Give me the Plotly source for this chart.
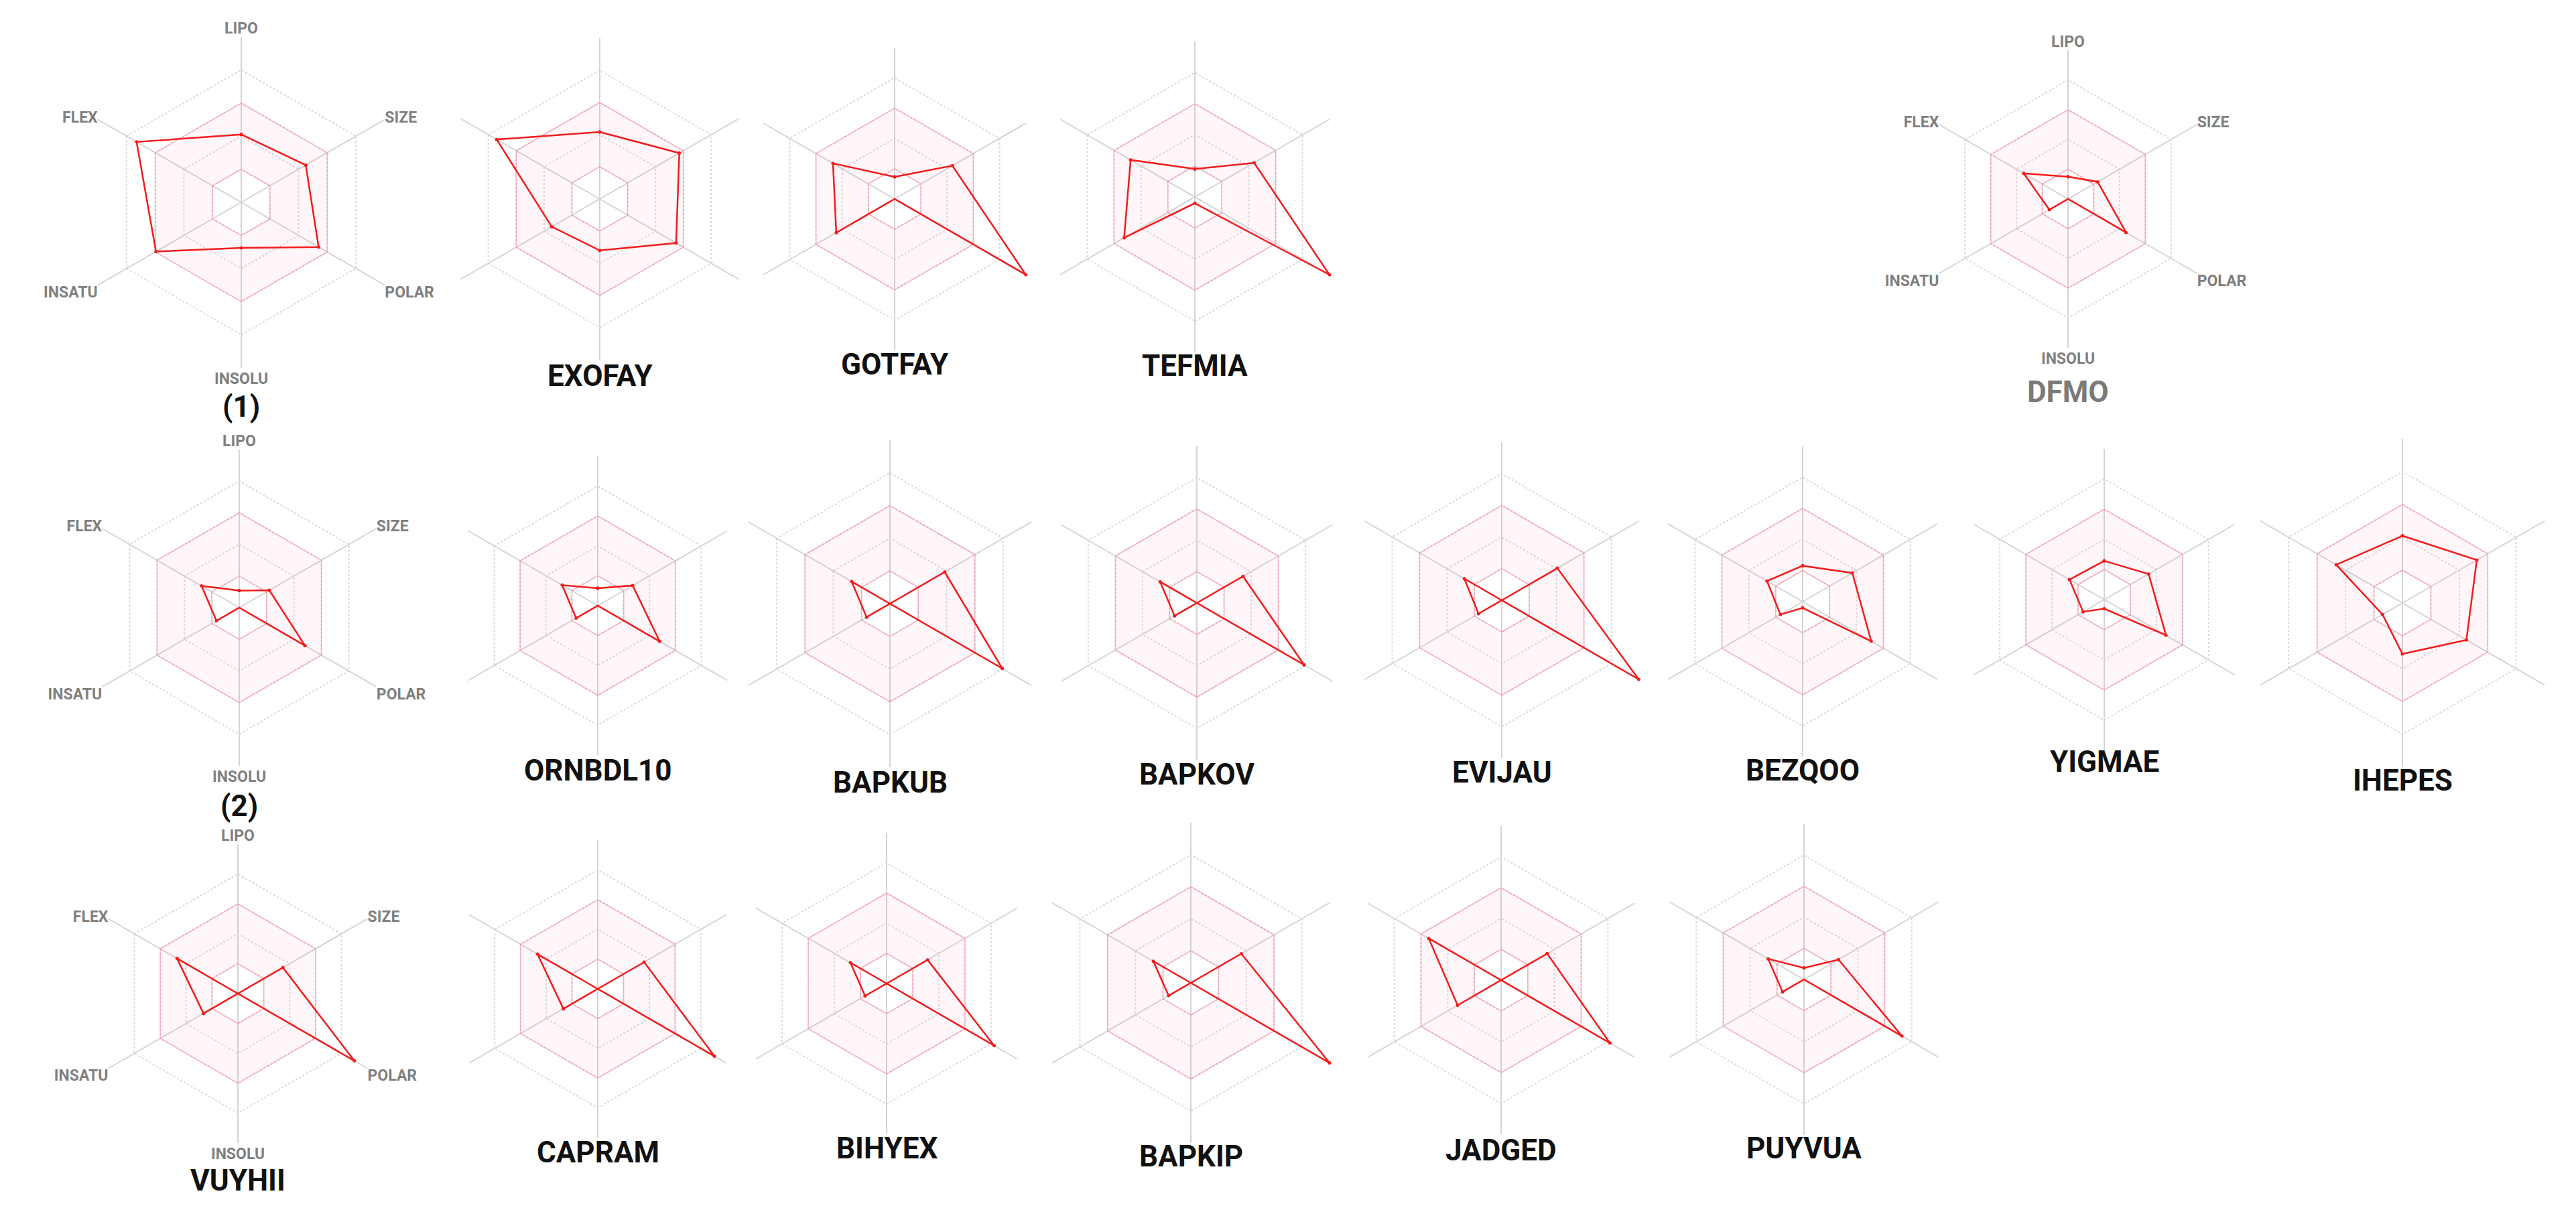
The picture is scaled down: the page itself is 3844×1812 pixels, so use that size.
import plotly.graph_objects as go

# axes of the bioavailability radar, clockwise from the top
axes = ["LIPO", "SIZE", "POLAR", "INSOLU", "INSATU", "FLEX"]

# compound names and their radar values (0 = centre, 1 = outer edge)
names = ["(1)", "EXOFAY", "GOTFAY", "TEFMIA", "DFMO",
         "(2)", "ORNBDL10", "BAPKUB", "BAPKOV", "EVIJAU", "BEZQOO", "YIGMAE", "IHEPES",
         "VUYHII", "CAPRAM", "BIHYEX", "BAPKIP", "JADGED", "PUYVUA"]

v_1 = [0.41, 0.45, 0.54, 0.275, 0.595, 0.73]
v_exofay = [0.417, 0.571, 0.548, 0.32, 0.345, 0.74]
v_gotfay = [0.146, 0.44, 1.0, 0.0, 0.445, 0.47]
v_tefmia = [0.18, 0.44, 1.0, 0.04, 0.525, 0.477]
v_dfmo = [0.15, 0.23, 0.45, 0.0, 0.145, 0.344]
v_2 = [0.108, 0.22, 0.48, 0.0, 0.166, 0.275]
v_ornbdl10 = [0.117, 0.27, 0.478, 0.0, 0.167, 0.275]
v_bapkub = [0.0, 0.387, 0.793, 0.0, 0.165, 0.27]
v_bapkov = [0.0, 0.34, 0.79, 0.0, 0.164, 0.27]
v_evijau = [0.0, 0.406, 1.0, 0.0, 0.17, 0.273]
v_bezqoo = [0.231, 0.369, 0.509, 0.04, 0.165, 0.265]
v_yigmae = [0.257, 0.34, 0.473, 0.06, 0.162, 0.266]
v_ihepes = [0.409, 0.523, 0.45, 0.31, 0.14, 0.466]
v_vuyhii = [0.0, 0.348, 0.9, 0.0, 0.266, 0.47]
v_capram = [0.0, 0.36, 0.906, 0.0, 0.267, 0.468]
v_bihyex = [0.0, 0.314, 0.824, 0.0, 0.165, 0.277]
v_bapkip = [0.0, 0.364, 1.0, 0.0, 0.16, 0.27]
v_jadged = [0.0, 0.345, 0.815, 0.0, 0.326, 0.542]
v_puyvua = [0.074, 0.256, 0.727, 0.0, 0.159, 0.266]

values = [v_1, v_exofay, v_gotfay, v_tefmia, v_dfmo,
          v_2, v_ornbdl10, v_bapkub, v_bapkov, v_evijau, v_bezqoo, v_yigmae, v_ihepes,
          v_vuyhii, v_capram, v_bihyex, v_bapkip, v_jadged, v_puyvua]

# optimal (pink) zone limits and grid levels
opt_low, opt_high = 0.2, 0.6
grid_levels = [0.2, 0.4, 0.6, 0.8, 1.0]

# layout of the panels in pixels: centre x, centre y, radius, title y
W, H = 3844, 1812
cx = [360, 895, 1335, 1783, 3086,
      357, 892, 1328, 1786, 2241, 2690, 3140, 3585,
      355, 892, 1323, 1777, 2240, 2692]
cy = [302, 297, 297, 294, 297,
      907, 904, 901, 900, 896, 898, 895, 900,
      1483, 1476, 1468, 1467, 1463, 1462]
rad = [247, 240, 226, 232, 222,
       236, 223, 244, 234, 236, 232, 225, 245,
       223, 222, 225, 239, 230, 232]
title_y = [607, 561, 544, 546, 585,
           1203, 1150, 1168, 1156, 1153, 1150, 1137, 1165,
           1762, 1720, 1714, 1726, 1717, 1714]
labelled = {"(1)", "DFMO", "(2)", "VUYHII"}

FONT = "Roboto, Arial, sans-serif"
PINK_LINE = "rgba(250,120,150,0.5)"
PINK_FILL = "rgba(255,80,140,0.05)"
RED = "#f21c1c"

theta_closed = axes + [axes[0]]
fig = go.Figure()
layout = dict()
annotations = []

for i, name in enumerate(names):
    pid = "polar" if i == 0 else "polar%d" % (i + 1)
    # optimal zone: ring between the two hexagons
    fig.add_trace(go.Scatterpolar(r=[opt_low] * 7, theta=theta_closed, mode="lines",
                                  line=dict(color=PINK_LINE, width=1.5),
                                  subplot=pid, showlegend=False, hoverinfo="skip"))
    fig.add_trace(go.Scatterpolar(r=[opt_high] * 7, theta=theta_closed, mode="lines",
                                  fill="tonext", fillcolor=PINK_FILL,
                                  line=dict(color=PINK_LINE, width=1.5),
                                  subplot=pid, showlegend=False, hoverinfo="skip"))
    vals = values[i]
    fig.add_trace(go.Scatterpolar(r=vals + [vals[0]], theta=theta_closed, mode="lines+markers",
                                  line=dict(color=RED, width=2.5),
                                  marker=dict(color=RED, size=5),
                                  subplot=pid, showlegend=False, name=name))

    x0, x1 = (cx[i] - rad[i]) / W, (cx[i] + rad[i]) / W
    y0, y1 = (H - cy[i] - rad[i]) / H, (H - cy[i] + rad[i]) / H
    layout[pid] = dict(
        domain=dict(x=[x0, x1], y=[y0, y1]),
        gridshape="linear",
        bgcolor="rgba(0,0,0,0)",
        radialaxis=dict(range=[0, 1], tickvals=grid_levels, showticklabels=False,
                        showline=False, ticks="", gridcolor="#d8d8d8", gridwidth=1.5,
                        griddash="dot"),
        angularaxis=dict(type="category", categoryarray=axes, rotation=90,
                         direction="clockwise", showline=False, ticks="",
                         gridcolor="#d4d4d4", gridwidth=1.5,
                         showticklabels=name in labelled,
                         tickfont=dict(family=FONT, size=23, color="#7f7f7f", weight="bold")),
    )
    annotations.append(dict(
        x=cx[i] / W, y=1 - title_y[i] / H, xref="paper", yref="paper",
        text=name, showarrow=False, xanchor="center", yanchor="middle",
        font=dict(family=FONT, size=44, weight="bold",
                  color="#7a7a7a" if name == "DFMO" else "#111111"),
    ))

fig.update_layout(**layout)
fig.update_layout(width=W, height=H, margin=dict(l=0, r=0, t=0, b=0),
                  paper_bgcolor="white", plot_bgcolor="white",
                  annotations=annotations)

fig.write_html("out.html", config={"displayModeBar": False},
               post_script="document.body.style.margin='0';")
